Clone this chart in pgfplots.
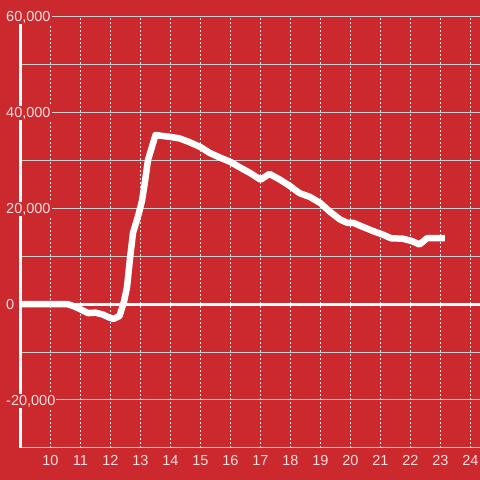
\documentclass[border=0pt]{standalone}
\usepackage{pgfplots}
\pgfplotsset{compat=1.18}
\usepackage{fontspec}
\setmainfont{Liberation Sans}
\usepackage{xcolor}
\definecolor{bgred}{RGB}{204,41,46}
\definecolor{lbl}{RGB}{243,222,222}
\definecolor{hgrid}{RGB}{205,205,205}
\definecolor{vgrid}{RGB}{232,225,225}
\pagecolor{bgred}
\begin{document}
\begin{tikzpicture}
\begin{axis}[
  set layers=standard,
  at={(20.5pt,32pt)}, anchor=south west,
  scale only axis, width=459.5pt, height=432pt,
  xmin=9, xmax=24.317, ymin=-30000, ymax=60000,
  scaled y ticks=false,
  axis x line*=bottom, axis y line*=left,
  x axis line style={hgrid, line width=1pt},
  y axis line style={white, line width=3pt},
  xtick={10,11,...,24},
  xticklabels={10,11,12,13,14,15,16,17,18,19,20,21,22,23,24},
  ytick={-20000,0,20000,40000,60000},
  yticklabels={{-20,000},{0},{20,000},{40,000},{60,000}},
  major tick length=0pt, minor tick length=0pt,
  xmajorgrids, ymajorgrids=false, yminorgrids,
  minor ytick={-20000,-10000,...,60000},
  major grid style={vgrid, line width=1pt, dash pattern=on 2pt off 2pt},
  minor grid style={hgrid, line width=1pt},
  tick label style={font=\fontsize{14.5}{17}\selectfont, text=lbl},
  xticklabel style={anchor=base, yshift=-18pt, inner sep=0pt},
  yticklabel style={anchor=base west, xshift=-15.5pt, yshift=-5.5pt, fill=bgred, inner sep=1pt},
  clip=false,
]
\begin{pgfonlayer}{axis background}
\fill[bgred] (rel axis cs:-0.0446,-0.0741) rectangle (rel axis cs:1,1.037);
\end{pgfonlayer}
\draw[white, line width=3pt] (axis cs:9,0) -- (axis cs:24.317,0);
\addplot[white, line width=6.5pt, line join=round] coordinates {
(9,0) (10.55,0) (10.75,-400) (11.0,-1100) (11.25,-1900) (11.5,-1800)
(11.75,-2200) (11.95,-2800) (12.1,-3100) (12.3,-2500) (12.45,500)
(12.55,3500) (12.65,9500) (12.75,14800) (12.95,19000) (13.05,21500)
(13.15,25500) (13.25,30000) (13.5,35200) (14.0,34800) (14.3,34500)
(14.6,33800) (15.0,32700) (15.3,31500) (15.65,30500) (16.0,29600)
(16.3,28500) (16.65,27300) (17.0,25900) (17.3,27100) (17.65,25900)
(18.0,24500) (18.3,23100) (18.65,22300) (19.0,21000) (19.3,19300)
(19.65,17600) (19.9,16900) (20.1,16900) (20.4,16100) (20.75,15200)
(21.1,14400) (21.35,13700) (21.75,13600) (22.05,13100) (22.3,12400)
(22.55,13700) (23.15,13700)
};
\end{axis}
\pgfresetboundingbox
\path[use as bounding box] (0pt,0pt) rectangle (480pt,480pt);
\end{tikzpicture}
\end{document}
